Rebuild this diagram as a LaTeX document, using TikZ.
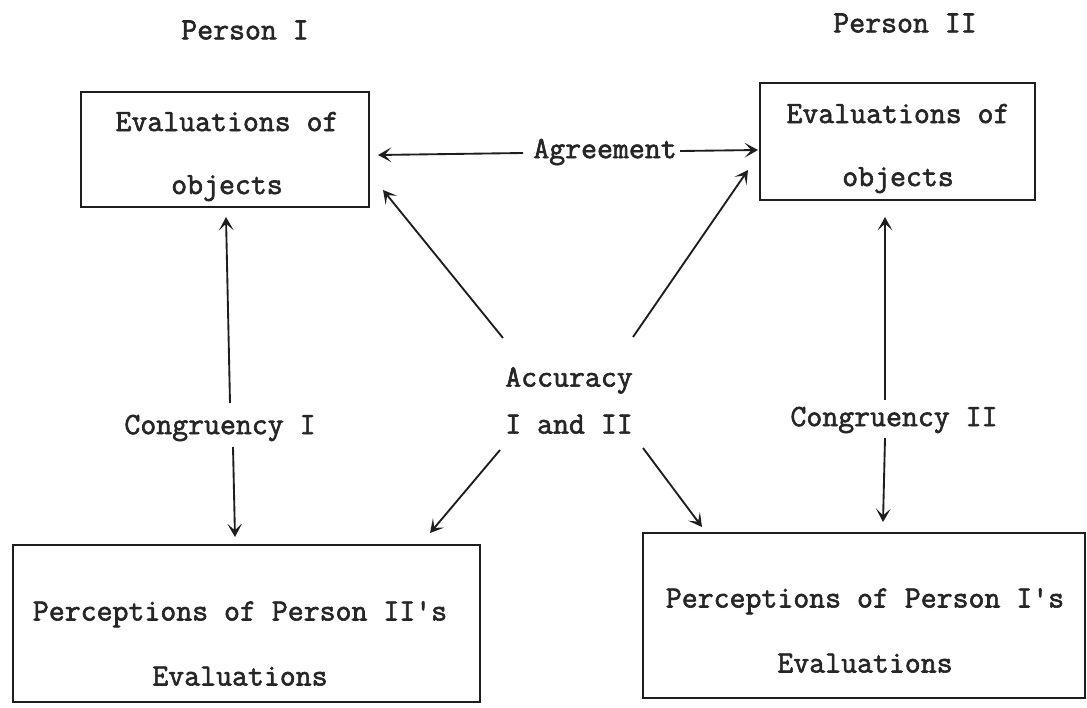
\documentclass[tikz,border=0pt]{standalone}
\usepackage{fontspec}
\setmonofont{Latin Modern Mono}[FakeBold=2]
\usetikzlibrary{arrows.meta}
\definecolor{ink}{HTML}{1E1E1E}
\definecolor{txt}{HTML}{262626}
\begin{document}
\begin{tikzpicture}[x=0.75pt,y=-0.75pt,
  box/.style={draw=ink,line width=1.9pt,inner sep=0pt,outer sep=0pt},
  lbl/.style={text=txt,inner sep=0pt,align=center,font=\ttfamily\fontsize{23.2}{#1}\selectfont},
  lbl/.default=26,
  arr/.style={draw=ink,line width=1.4pt,-{Stealth[length=10pt,width=11pt,inset=5pt]}}]
\useasboundingbox[fill=white] (0,0) rectangle (1087,707);
% boxes
\node[box,minimum width=216pt,minimum height=86.25pt] (tl) at (225,149.5) {};
\node[box,minimum width=206.25pt,minimum height=87.75pt] (tr) at (897.5,141.5) {};
\node[box,minimum width=350.25pt,minimum height=117.75pt] (bl) at (246.5,623.5) {};
\node[box,minimum width=331.5pt,minimum height=123.75pt] (br) at (864,615.5) {};
% texts
\node[lbl=47.25] (tlt) at (227,156.5) {Evaluations of\\objects};
\node[lbl=47.25] (trt) at (898,148.5) {Evaluations of\\objects};
\node[lbl=48.75] (blt) at (240,643.5) {Perceptions of Person II's\\Evaluations};
\node[lbl=48.75] (brt) at (865,630.5) {Perceptions of Person I's\\Evaluations};
\node[lbl] (p1) at (245,30) {Person I};
\node[lbl] (p2) at (905,23) {Person II};
\node[lbl=35.25] (acc) at (569,400.5) {Accuracy\\I and II};
\node[lbl] (cg1) at (220,428) {Congruency I};
\node[lbl] (cg2) at (894,420) {Congruency II};
\node[lbl] (ag) at (605,152) {Agreement};
% connector end points
\coordinate (agl) at (523,153);
\coordinate (agr) at (680,151);
\coordinate (agL) at (378,155);
\coordinate (agR) at (758,150);
\coordinate (c1a) at (230,403);
\coordinate (c1A) at (226,217);
\coordinate (c1b) at (233,447);
\coordinate (c1B) at (235,537);
\coordinate (c2a) at (885,400);
\coordinate (c2A) at (885,217);
\coordinate (c2b) at (885,438);
\coordinate (c2B) at (883,522);
\coordinate (d1) at (503,338);
\coordinate (d1h) at (383,190);
\coordinate (d2) at (633,337);
\coordinate (d2h) at (748,170);
\coordinate (d3) at (500,450);
\coordinate (d3h) at (430,533);
\coordinate (d4) at (643,448);
\coordinate (d4h) at (702,527);
% connectors
\draw[arr] (agl) -- (agL);
\draw[arr] (agr) -- (agR);
\draw[arr] (c1a) -- (c1A);
\draw[arr] (c1b) -- (c1B);
\draw[arr] (c2a) -- (c2A);
\draw[arr] (c2b) -- (c2B);
\draw[arr] (d1) -- (d1h);
\draw[arr] (d2) -- (d2h);
\draw[arr] (d3) -- (d3h);
\draw[arr] (d4) -- (d4h);
\end{tikzpicture}
\end{document}
